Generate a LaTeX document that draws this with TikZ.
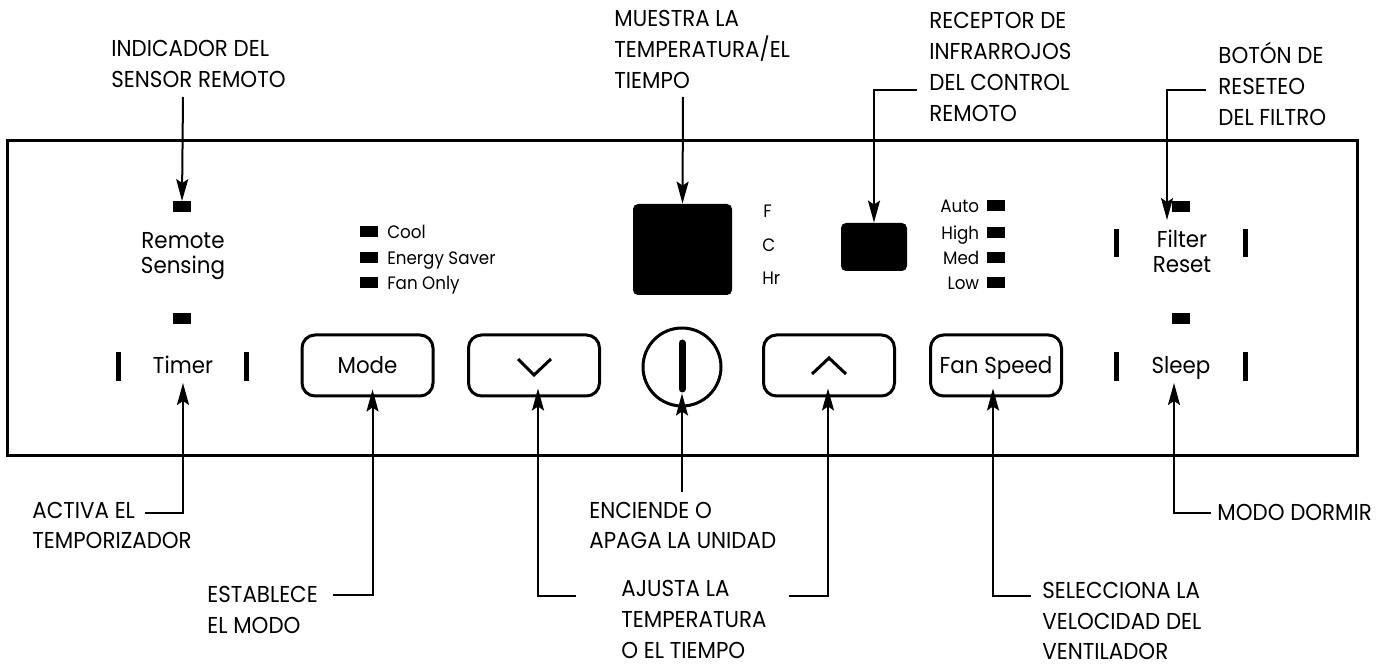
\documentclass[tikz,border=0pt]{standalone}
\usepackage{fontspec}
\setmainfont[FakeStretch=0.93]{Poppins}
\usetikzlibrary{arrows.meta}
\usetikzlibrary{positioning}

\begin{document}
\begin{tikzpicture}[x=0.5pt,y=-0.5pt,every path/.style={>={Stealth[length=11pt,width=6pt,inset=2pt]}},
		lbl/.style={anchor=base west,inner sep=0,align=left,font=\fontsize{11.5}{15.5}\selectfont},
		pnl/.style={inner sep=0,align=center,font=\fontsize{11.5}{12.5}\selectfont},
		ledtxt/.style={inner sep=0,text height=6.3pt,text depth=0pt,font=\fontsize{9}{10}\selectfont},
		led/.style={fill=black,inner sep=0,minimum width=9pt,minimum height=5.5pt},
		btn/.style={draw,line width=1.5pt,rounded corners=6.5pt,minimum width=65.5pt,minimum height=30.5pt,
			inner sep=0,text height=8pt,text depth=0pt,font=\fontsize{11.5}{12.5}\selectfont},
		vbar/.style={line width=2.5pt},
		arr/.style={->,line width=1pt}]
			\useasboundingbox (0,0) rectangle (1394,668);

			% draw panel
			\draw[line width=1.5pt] (7,141) rectangle (1357,456);

			% draw indicators and texts
			\node (ledRem) [led] at (182,207) {};
			\node (txtRemote) [pnl,anchor=base] at (183,274) {Remote\\Sensing};
			\node (ledTim) [led] at (182,319) {};
			\node (txtTimer) [pnl,anchor=base] at (183,374) {Timer};
			\draw[vbar] (118,352) -- (118,381);
			\draw[vbar] (246,352) -- (246,381);

			\foreach \name/\txt/\y in {cool/Cool/232,saver/Energy Saver/258,fanonly/Fan Only/283}{
				\node (led\name) [led] at (368.5,\y) {};
				\node (t\name) [ledtxt,right=4.5pt of led\name] {\txt};
			}

			\node (dispBox) [fill=black,rounded corners=2.5pt,minimum width=49.5pt,minimum height=45.5pt,inner sep=0] at (682.5,249.5) {};
			\node (unitF) [ledtxt,anchor=base west] at (763,218) {F};
			\node (unitC) [ledtxt,anchor=base west] at (762,252) {C};
			\node (unitHr) [ledtxt,anchor=base west] at (762,285) {Hr};

			\node (irBox) [fill=black,rounded corners=2.5pt,minimum width=33pt,minimum height=24pt,inner sep=0] at (874,247) {};

			\foreach \name/\txt/\y in {auto/Auto/206,high/High/233,med/Med/258,low/Low/283}{
				\node (led\name) [led] at (996,\y) {};
				\node (t\name) [ledtxt,left=3.5pt of led\name] {\txt};
			}

			\node (ledFil) [led] at (1180.5,207) {};
			\node (txtFilter) [pnl,anchor=base] at (1182,273) {Filter\\Reset};
			\draw[vbar] (1116,229) -- (1116,257);
			\draw[vbar] (1245,229) -- (1245,257);
			\node (ledSlp) [led] at (1180.5,319) {};
			\node (txtSleep) [pnl,anchor=base] at (1181,374) {Sleep};
			\draw[vbar] (1116,352) -- (1116,381);
			\draw[vbar] (1245,352) -- (1245,381);

			% draw buttons
			\node (btnMode) [btn] at (367.5,365.5) {Mode};
			\node (btnDown) [btn] at (534,365.5) {};
			\draw[line width=1.5pt] (518,359) -- (534,375) -- (551,359);
			\node (btnPower) [draw,circle,line width=1.5pt,minimum size=39pt,inner sep=0] at (682,367) {};
			\draw[line width=3.5pt,line cap=round] (682,343) -- (682,389);
			\node (btnUp) [btn] at (829,365.5) {};
			\draw[line width=1.5pt] (812,374) -- (829,358) -- (846,374);
			\node (btnFan) [btn] at (996,365.5) {Fan Speed};

			% draw labels (anchored at the baseline of the last line)
			\node (lblRemote) [lbl] at (111,88) {INDICADOR DEL\\SENSOR REMOTO};
			\node (lblDisplay) [lbl] at (614,89) {MUESTRA LA\\TEMPERATURA/EL\\TIEMPO};
			\node (lblIR) [lbl] at (929,122) {RECEPTOR DE\\INFRARROJOS\\DEL CONTROL\\REMOTO};
			\node (lblFilter) [lbl] at (1218,126) {BOTÓN DE\\RESETEO\\DEL FILTRO};
			\node (lblTimer) [lbl] at (32,549) {ACTIVA EL\\TEMPORIZADOR};
			\node (lblPower) [lbl] at (589,549) {ENCIENDE O\\APAGA LA UNIDAD};
			\node (lblMode) [lbl] at (207,633) {ESTABLECE\\EL MODO};
			\node (lblTemp) [lbl] at (621,658) {AJUSTA LA\\TEMPERATURA\\O EL TIEMPO};
			\node (lblFan) [lbl] at (1042,660) {SELECCIONA LA\\VELOCIDAD DEL\\VENTILADOR};
			\node (lblSleep) [lbl] at (1217,521) {MODO DORMIR};

			% draw arrows
			\coordinate (remTail) at (183,97);
			\coordinate (dispTail) at (683,97);
			\coordinate (irTail) at (917,90);
			\coordinate (filTail) at (1206,90);
			\coordinate (filTip) at (1167,220);
			\coordinate (timTail) at (145,513);
			\coordinate (modTail) at (333,595);
			\coordinate (dnTail) at (576,596);
			\coordinate (pwrTail) at (682,492);
			\coordinate (upTail) at (789,596);
			\coordinate (fanTail) at (1031,596);
			\coordinate (slpTail) at (1211,513);

			\draw[arr] (remTail) -- (ledRem.north);
			\draw[arr] (dispTail) -- (dispBox.north);
			\draw[arr] (irTail) -| (irBox.north);
			\draw[arr] (filTail) -| (filTip);
			\draw[arr] (timTail) -| ([yshift=-4.5pt]txtTimer.base);
			\draw[arr] (modTail) -| ([xshift=2.5pt,yshift=4pt]btnMode.south);
			\draw[arr] (dnTail) -| ([xshift=2pt,yshift=4.5pt]btnDown.south);
			\draw[arr] (pwrTail) -- ([yshift=7pt]btnPower.south);
			\draw[arr] (upTail) -| ([xshift=-0.5pt,yshift=4.5pt]btnUp.south);
			\draw[arr] (fanTail) -| ([xshift=-1.5pt,yshift=4.5pt]btnFan.south);
			\draw[arr] (slpTail) -| ([xshift=-3.5pt,yshift=-4.5pt]txtSleep.base);
		\end{tikzpicture}
\end{document}
